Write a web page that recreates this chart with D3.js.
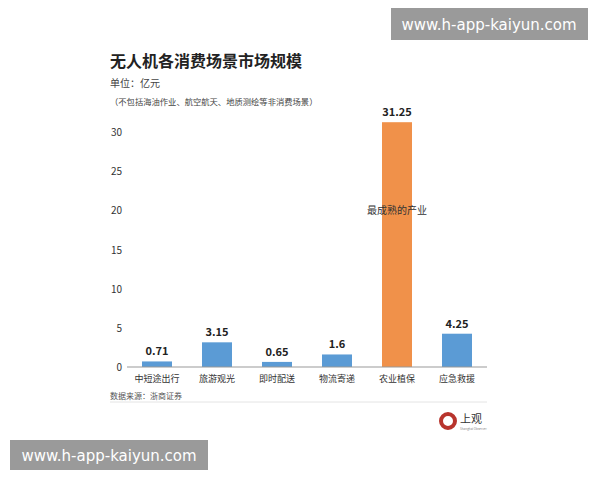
<!DOCTYPE html>
<html><head><meta charset="utf-8">
<script src="https://cdn.jsdelivr.net/npm/d3@7"></script>
<style>body{margin:0;background:#fff;font-family:"Noto Sans CJK SC","Noto Sans",sans-serif}</style>
</head><body>
<svg id="c" width="600" height="480"></svg>
<script>
const categories = ["中短途出行","旅游观光","即时配送","物流寄递","农业植保","应急救援"];
const values = [0.71, 3.15, 0.65, 1.6, 31.25, 4.25];
const highlight = [false, false, false, false, true, false];
const yTicks = [0, 5, 10, 15, 20, 25, 30];

const svg = d3.select("#c");
const x = d3.scaleBand().domain(categories).range([127, 487]).paddingInner(0.5).paddingOuter(0.25);
const y = d3.scaleLinear().domain([0, 30]).range([367, 132]);

svg.append("text").attr("x", 110).attr("y", 67).attr("font-size", 16).attr("font-weight", "bold").attr("fill", "#222").text("无人机各消费场景市场规模");
svg.append("text").attr("x", 110).attr("y", 87).attr("font-size", 10).attr("fill", "#444").text("单位：亿元");
svg.append("text").attr("x", 110).attr("y", 105).attr("font-size", 8.3).attr("fill", "#444").text("（不包括海油作业、航空航天、地质测绘等非消费场景）");

svg.selectAll(".yt").data(yTicks).join("text")
  .attr("x", 122).attr("y", d => y(d) + 4).attr("text-anchor", "end")
  .attr("font-size", 10).attr("fill", "#333").text(d => d);

svg.selectAll(".bar").data(values).join("rect")
  .attr("x", (d, i) => x(categories[i])).attr("width", x.bandwidth())
  .attr("y", d => y(d)).attr("height", d => y(0) - y(d))
  .attr("fill", (d, i) => highlight[i] ? "#f0914a" : "#5b9bd5");

svg.selectAll(".vl").data(values).join("text")
  .attr("x", (d, i) => x(categories[i]) + x.bandwidth() / 2).attr("y", d => y(d) - 6)
  .attr("text-anchor", "middle").attr("font-size", 11).attr("font-weight", "bold").attr("fill", "#222")
  .text(d => d);

svg.append("line").attr("x1", 127).attr("x2", 487).attr("y1", y(0)).attr("y2", y(0)).attr("stroke", "#999");

svg.selectAll(".xl").data(categories).join("text")
  .attr("x", d => x(d) + x.bandwidth() / 2).attr("y", 382)
  .attr("text-anchor", "middle").attr("font-size", 9).attr("fill", "#333").text(d => d);

svg.append("text").attr("x", x("农业植保") + x.bandwidth() / 2).attr("y", y(20) + 4)
  .attr("text-anchor", "middle").attr("font-size", 10).attr("fill", "#333").text("最成熟的产业");

svg.append("text").attr("x", 110).attr("y", 399).attr("font-size", 8).attr("fill", "#555").text("数据来源：浙商证券");
svg.append("line").attr("x1", 110).attr("x2", 487).attr("y1", 402).attr("y2", 402).attr("stroke", "#e4e4e4");

svg.append("circle").attr("cx", 448).attr("cy", 421).attr("r", 7).attr("fill", "none").attr("stroke", "#b8342d").attr("stroke-width", 4);
svg.append("text").attr("x", 460).attr("y", 423).attr("font-size", 11).attr("fill", "#333").text("上观");
svg.append("text").attr("x", 460).attr("y", 430).attr("font-size", 3).attr("fill", "#888").text("Shanghai Observer");

svg.append("rect").attr("x", 391).attr("y", 8).attr("width", 197).attr("height", 32).attr("fill", "#9a9a9a");
svg.append("text").attr("x", 489).attr("y", 30).attr("text-anchor", "middle").attr("font-size", 15).attr("fill", "#fff").attr("font-family", "DejaVu Sans").text("www.h-app-kaiyun.com");
svg.append("rect").attr("x", 10).attr("y", 440).attr("width", 198).attr("height", 30).attr("fill", "#9a9a9a");
svg.append("text").attr("x", 109).attr("y", 461).attr("text-anchor", "middle").attr("font-size", 15).attr("fill", "#fff").attr("font-family", "DejaVu Sans").text("www.h-app-kaiyun.com");
</script>
</body></html>
